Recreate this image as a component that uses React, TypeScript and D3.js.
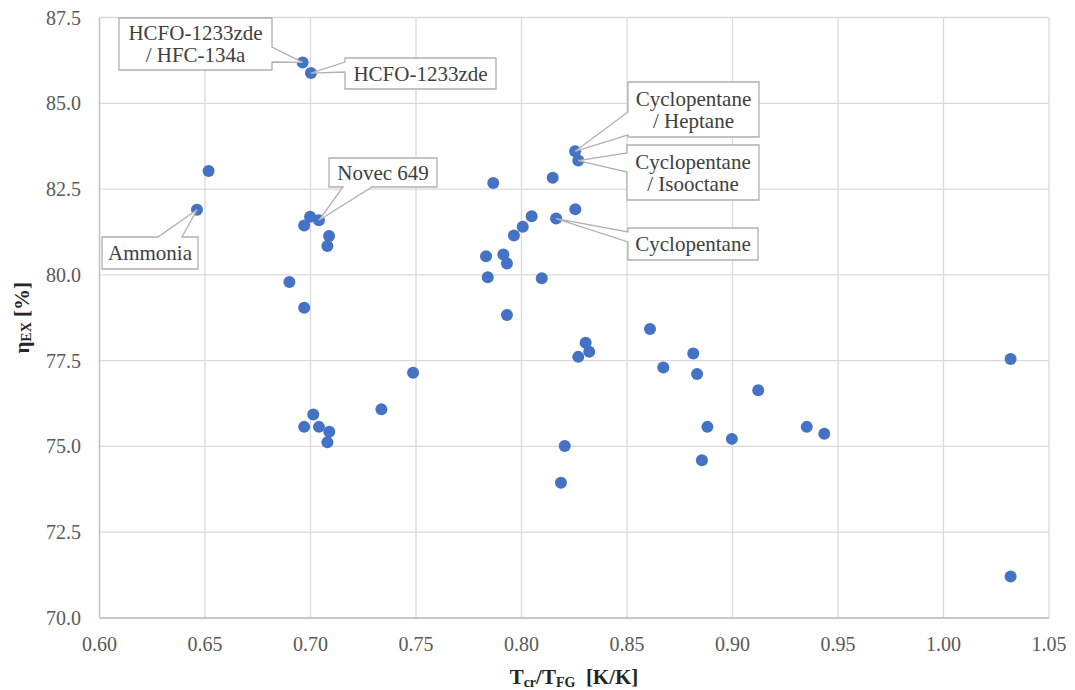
import React from 'react';
import * as d3 from 'd3';

// T_cr / T_FG ratio of each working fluid
const tRatio = [
  0.6963, 0.7002, 0.6517, 0.6462, 0.6998, 0.704, 0.697, 0.7088, 0.708, 0.69,
  0.697, 0.697, 0.7013, 0.704, 0.7089, 0.708, 0.7866, 0.8148, 0.8254, 0.8269,
  0.8255, 0.8164, 0.8048, 0.8006, 0.7964, 0.7832, 0.7914, 0.7931, 0.784, 0.8096,
  0.7931, 0.7486, 0.7336, 0.8304, 0.8321, 0.8269, 0.8609, 0.8672, 0.8814, 0.8832,
  0.8881, 0.8855, 0.8205, 0.8187, 1.0318, 1.0318, 0.9122, 0.9352, 0.9435, 0.8997,
];

// exergy efficiency [%]
const etaEx = [
  86.19, 85.88, 83.03, 81.9, 81.69, 81.59, 81.44, 81.13, 80.84, 79.79,
  79.04, 75.57, 75.93, 75.57, 75.43, 75.12, 82.68, 82.83, 83.6, 83.33,
  81.91, 81.64, 81.71, 81.4, 81.15, 80.54, 80.59, 80.33, 79.93, 79.9,
  78.83, 77.15, 76.08, 78.02, 77.76, 77.61, 78.42, 77.3, 77.71, 77.11,
  75.57, 74.6, 75.01, 73.94, 77.55, 71.21, 76.64, 75.57, 75.37, 75.22,
];

const xTicks = [0.6, 0.65, 0.7, 0.75, 0.8, 0.85, 0.9, 0.95, 1.0, 1.05];
const yTicks = [70, 72.5, 75, 77.5, 80, 82.5, 85, 87.5];

// callout labels: text lines and the point they point at
const calloutText = [
  ['HCFO-1233zde', '/ HFC-134a'],
  ['HCFO-1233zde'],
  ['Novec 649'],
  ['Cyclopentane', '/ Heptane'],
  ['Cyclopentane', '/ Isooctane'],
  ['Cyclopentane'],
  ['Ammonia'],
];
const calloutPoint = [0, 1, 5, 18, 19, 21, 3];

// box layout (pixels) + which side the tail leaves from
const calloutBox = [
  { x0: 119, y0: 18, x1: 272, y1: 70, side: 'right', a: 47, b: 62 },
  { x0: 345, y0: 58, x1: 496, y1: 89, side: 'left', a: 62, b: 72 },
  { x0: 329, y0: 158, x1: 437, y1: 187, side: 'bottom', a: 343, b: 372 },
  { x0: 628, y0: 82, x1: 759, y1: 137, side: 'left', a: 112, b: 135 },
  { x0: 627, y0: 145, x1: 759, y1: 200, side: 'left', a: 153, b: 172 },
  { x0: 628, y0: 228, x1: 758, y1: 260, side: 'left', a: 232, b: 242 },
  { x0: 102, y0: 237, x1: 198, y1: 269, side: 'top', a: 158, b: 182 },
];

const FONT = '"Liberation Serif"';

const wedgePath = (bx, px, py) => {
  const { x0, y0, x1, y1, side, a, b } = bx;
  const p = [[x0, y0]];
  if (side === 'top') p.push([a, y0], [px, py], [b, y0]);
  p.push([x1, y0]);
  if (side === 'right') p.push([x1, a], [px, py], [x1, b]);
  p.push([x1, y1]);
  if (side === 'bottom') p.push([b, y1], [px, py], [a, y1]);
  p.push([x0, y1]);
  if (side === 'left') p.push([x0, b], [px, py], [x0, a]);
  return 'M' + p.map((d) => d.join(',')).join('L') + 'Z';
};

const x = d3.scaleLinear().domain([0.6, 1.05]).range([99.5, 1049]);
const y = d3.scaleLinear().domain([70, 87.5]).range([618, 17.5]);

const ScatterChart = () => {
  const [xa, xb] = x.domain();
  const [ya, yb] = y.domain();
  return (
    <svg width={1075} height={690} style={{ position: 'absolute', left: 0, top: 0, background: '#fff' }}>
      {/* grid */}
      {xTicks.map((d) => (
        <line key={'gx' + d} x1={x(d)} x2={x(d)} y1={y(ya)} y2={y(yb)} stroke="#d9d9d9" strokeWidth={1.3} />
      ))}
      {yTicks.map((d) => (
        <line key={'gy' + d} x1={x(xa)} x2={x(xb)} y1={y(d)} y2={y(d)} stroke="#d9d9d9" strokeWidth={1.3} />
      ))}
      <line x1={x(xa)} x2={x(xa)} y1={y(ya)} y2={y(yb)} stroke="#bfbfbf" strokeWidth={1.3} />
      <line x1={x(xa)} x2={x(xb)} y1={y(ya)} y2={y(ya)} stroke="#bfbfbf" strokeWidth={1.3} />

      {/* tick labels */}
      {xTicks.map((d) => (
        <text key={'tx' + d} x={x(d)} y={651} textAnchor="middle" fontFamily={FONT} fontSize={20} fill="#595959">{d.toFixed(2)}</text>
      ))}
      {yTicks.map((d) => (
        <text key={'ty' + d} x={81} y={y(d) + 7} textAnchor="end" fontFamily={FONT} fontSize={20} fill="#595959">{d.toFixed(1)}</text>
      ))}

      {/* axis titles */}
      <text x={574} y={684} textAnchor="middle" fontFamily={FONT} fontSize={21} fontWeight="bold" fill="#262626">
        <tspan>T</tspan>
        <tspan fontSize={14} dy={3}>cr</tspan>
        <tspan dy={-3}>/T</tspan>
        <tspan fontSize={14} dy={3}>FG</tspan>
        <tspan dy={-3}>{'\u00a0 [K/K]'}</tspan>
      </text>
      <text transform={`translate(29,${(y(ya) + y(yb)) / 2}) rotate(-90)`} textAnchor="middle" fontFamily={FONT} fontSize={21} fontWeight="bold" fill="#262626">
        <tspan>{'\u03b7'}</tspan>
        <tspan fontSize={14} dy={2}>EX</tspan>
        <tspan dy={-2}>{' [%]'}</tspan>
      </text>

      {/* points */}
      {tRatio.map((d, i) => (
        <circle key={'p' + i} cx={x(d)} cy={y(etaEx[i])} r={6} fill="#4472c4" />
      ))}

      {/* callouts */}
      {calloutText.map((lines, i) => {
        const bx = calloutBox[i];
        const k = calloutPoint[i];
        const cy = (bx.y0 + bx.y1) / 2;
        return (
          <g key={'c' + i}>
            <path d={wedgePath(bx, x(tRatio[k]), y(etaEx[k]))} fill="#ffffff" stroke="#b0b0b0" strokeWidth={1.3} />
            {lines.map((t, j) => (
              <text key={j} x={(bx.x0 + bx.x1) / 2} y={cy + 7 + (j - (lines.length - 1) / 2) * 22}
                textAnchor="middle" fontFamily={FONT} fontSize={21} fill="#404040">{t}</text>
            ))}
          </g>
        );
      })}
    </svg>
  );
};

export default function App() {
  return <ScatterChart />;
}
